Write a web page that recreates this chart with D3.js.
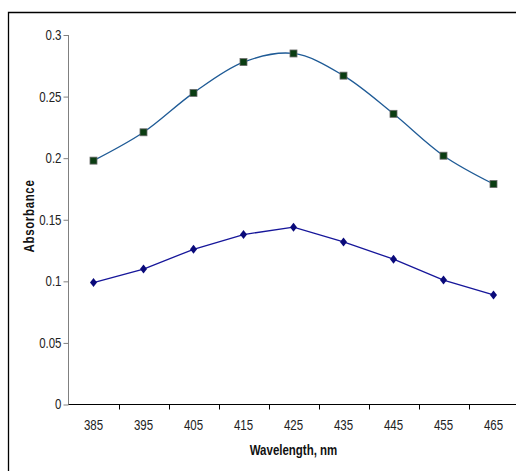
<!DOCTYPE html>
<html>
<head>
<meta charset="utf-8">
<script src="https://cdn.jsdelivr.net/npm/d3@7"></script>
<style>
  html, body { margin: 0; padding: 0; background: #fff; overflow: hidden; }
  svg { display: block; overflow: hidden; }
  text { font-family: "Liberation Sans", Arial, sans-serif; }
</style>
</head>
<body>
<svg id="chart" width="516" height="471"></svg>
<script>
// Absorption spectra: wavelength (nm) vs absorbance for two samples
const wavelengths = ["385", "395", "405", "415", "425", "435", "445", "455", "465"];
const upperSeries = [0.198, 0.221, 0.253, 0.278, 0.285, 0.267, 0.236, 0.202, 0.179];
const lowerSeries = [0.099, 0.110, 0.126, 0.138, 0.144, 0.132, 0.118, 0.101, 0.089];
const yTicks = [0, 0.05, 0.1, 0.15, 0.2, 0.25, 0.3];

const W = 516, H = 471;
const narrow = 0.82; // horizontal squeeze for a condensed look

const svg = d3.select("#chart");

// outer chart frame: top and left edges (the rest runs past the canvas)
svg.append("path")
  .attr("d", `M8.5,${H}V12.5H${W}`)
  .attr("fill", "none")
  .attr("stroke", "#000")
  .attr("stroke-width", 1.3);

const x = d3.scaleBand().domain(wavelengths).range([68.5, 518.5]).padding(0);
const y = d3.scaleLinear().domain([0, 0.3]).range([404.5, 35]);
const cx = d => x(d) + x.bandwidth() / 2;

// y axis
const yAxis = svg.append("g")
  .attr("transform", "translate(68.5,0)")
  .call(d3.axisLeft(y).tickValues(yTicks).tickSize(5).tickPadding(2)
    .tickFormat(d => String(+d.toFixed(2))));
yAxis.select(".domain").attr("stroke", "#808080").attr("d", `M0,${y(0.3)}V${y(0)}`);
yAxis.selectAll(".tick line").attr("stroke", "#808080");
yAxis.selectAll(".tick text")
  .attr("font-size", 14).attr("fill", "#222")
  .attr("x", 0)
  .attr("transform", `translate(-7,0) scale(${narrow},1)`);

// x axis: labels centred on categories, ticks on category boundaries
const xAxis = svg.append("g")
  .attr("transform", `translate(0,${y(0)})`)
  .call(d3.axisBottom(x).tickSize(0).tickPadding(15.5));
xAxis.select(".domain").attr("stroke", "#000").attr("d", `M68.5,0H${W}`);
xAxis.selectAll(".tick text")
  .attr("font-size", 14).attr("fill", "#222")
  .attr("transform", `scale(${narrow},1)`);
xAxis.selectAll(".bound")
  .data(wavelengths.slice(1))
  .join("line")
  .attr("class", "bound")
  .attr("x1", d => Math.round(x(d)) + 0.5).attr("x2", d => Math.round(x(d)) + 0.5)
  .attr("y1", 0).attr("y2", 5)
  .attr("stroke", "#000");

// axis titles
svg.append("text")
  .attr("transform", `translate(293.5,455) scale(${narrow},1)`)
  .attr("text-anchor", "middle")
  .attr("font-size", 14).attr("font-weight", "bold").attr("fill", "#111")
  .text("Wavelength, nm");

svg.append("text")
  .attr("transform", `translate(34,216) rotate(-90) scale(${narrow},1)`)
  .attr("text-anchor", "middle")
  .attr("font-size", 14).attr("font-weight", "bold").attr("fill", "#111")
  .attr("letter-spacing", 0.8)
  .text("Absorbance");

// upper series: smoothed line with square markers
const smooth = d3.line().x((d, i) => cx(wavelengths[i])).y(d => y(d)).curve(d3.curveCatmullRom.alpha(0.5));
svg.append("path")
  .attr("d", smooth(upperSeries))
  .attr("fill", "none").attr("stroke", "#1f5b96").attr("stroke-width", 1.3);
svg.selectAll(".sq")
  .data(upperSeries)
  .join("rect")
  .attr("class", "sq")
  .attr("x", (d, i) => cx(wavelengths[i]) - 3.5)
  .attr("y", d => y(d) - 3.5)
  .attr("width", 7).attr("height", 7)
  .attr("fill", "#0b3d12").attr("stroke", "#6b6b6b").attr("stroke-width", 0.8);

// lower series: straight segments with diamond markers
const straight = d3.line().x((d, i) => cx(wavelengths[i])).y(d => y(d));
svg.append("path")
  .attr("d", straight(lowerSeries))
  .attr("fill", "none").attr("stroke", "#16169a").attr("stroke-width", 1.3);
svg.selectAll(".dm")
  .data(lowerSeries)
  .join("path")
  .attr("class", "dm")
  .attr("transform", (d, i) => `translate(${cx(wavelengths[i])},${y(d)})`)
  .attr("d", "M0,-4.5L3.5,0L0,4.5L-3.5,0Z")
  .attr("fill", "#0a0a7a");
</script>
</body>
</html>
